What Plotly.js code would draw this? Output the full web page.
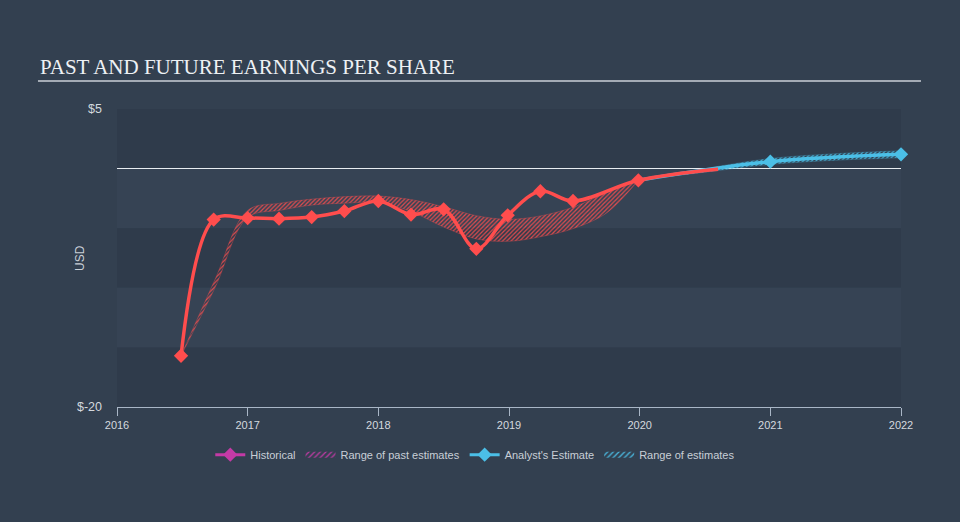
<!DOCTYPE html>
<html><head><meta charset="utf-8">
<script src="https://cdn.plot.ly/plotly-3.0.1.min.js"></script>
<style>html,body{margin:0;padding:0;background:#334050;} #chart{width:960px;height:522px;}</style>
</head><body><div id="chart"></div>
<script>
// Historical EPS (fractional year, USD)
const histT   = [2016.49, 2016.74, 2017.0, 2017.24, 2017.49, 2017.74, 2018.0, 2018.25, 2018.5, 2018.75, 2018.99, 2019.24, 2019.49, 2019.99, 2020.6];
const histEPS = [-15.7, -4.28, -4.15, -4.2, -4.07, -3.56, -2.72, -3.86, -3.42, -6.73, -3.92, -1.9, -2.72, -0.98, -0.05];
// Range of past estimates
const pastT    = [2016.49, 2016.75, 2017.0, 2017.25, 2017.5, 2017.75, 2018.0, 2018.25, 2018.5, 2018.75, 2019.0, 2019.25, 2019.5, 2019.75, 2019.99];
const pastHigh = [-15.7, -9.3, -3.5, -2.9, -2.55, -2.35, -2.3, -2.6, -3.2, -3.95, -4.25, -3.95, -3.2, -2.0, -0.98];
const pastLow  = [-15.7, -10.0, -4.1, -3.5, -3.05, -2.9, -2.85, -3.6, -4.9, -5.9, -6.1, -5.7, -5.0, -3.7, -0.98];
// Analyst estimate
const estT   = [2019.99, 2021.0, 2022.0];
const estEPS = [-0.98, 0.58, 1.2];
const estRangeT = [2019.99, 2020.5, 2021.0, 2021.5, 2022.0];
const estHigh   = [-0.98, 0.0, 0.85, 1.25, 1.5];
const estLow    = [-0.98, -0.3, 0.35, 0.7, 0.9];
// Axis ticks
const yearTicks = [2016, 2017, 2018, 2019, 2020, 2021, 2022];
const yTickVals = [5, -20];
const yTickText = ['$5', '$-20'];

const RED = '#ff4d4d', BLUE = '#4bbfe7', MAG = '#c43aa6';
const SANS = '"Liberation Sans", Arial, sans-serif';
const NARROW = '"Liberation Sans Narrow", "Arial Narrow", "Liberation Sans", Arial, sans-serif';

const histSizes = histT.map((t, i) => i === histT.length - 1 ? 0 : 11);
const estSizes = estT.map((t, i) => i === 0 ? 0 : 11);

const traces = [
  {x: estRangeT, y: estLow, mode: 'lines', line: {color: 'rgba(75,191,231,0.5)', width: 0.5, shape: 'spline'}, showlegend: false, hoverinfo: 'skip'},
  {x: estRangeT, y: estHigh, mode: 'lines', fill: 'tonexty', line: {color: 'rgba(75,191,231,0.5)', width: 0.5, shape: 'spline'},
   fillpattern: {shape: '/', fgcolor: 'rgba(75,191,231,0.9)', bgcolor: 'rgba(0,0,0,0)', size: 3, solidity: 0.4}, showlegend: false, hoverinfo: 'skip'},
  {x: estT, y: estEPS, mode: 'lines+markers', line: {color: BLUE, width: 3.5, shape: 'spline'},
   marker: {symbol: 'diamond', size: estSizes, color: BLUE, opacity: 1, line: {width: 0}}, showlegend: false, cliponaxis: false},
  {x: pastT, y: pastLow, mode: 'lines', line: {color: 'rgba(255,77,77,0.5)', width: 0.6, shape: 'spline'}, showlegend: false, hoverinfo: 'skip'},
  {x: pastT, y: pastHigh, mode: 'lines', fill: 'tonexty', line: {color: 'rgba(255,77,77,0.5)', width: 0.6, shape: 'spline'},
   fillpattern: {shape: '/', fgcolor: 'rgba(255,77,77,0.85)', bgcolor: 'rgba(0,0,0,0)', size: 3, solidity: 0.4}, showlegend: false, hoverinfo: 'skip'},
  {x: histT, y: histEPS, mode: 'lines+markers', line: {color: RED, width: 3.5, shape: 'spline'},
   marker: {symbol: 'diamond', size: histSizes, color: RED, opacity: 1, line: {width: 0}}, showlegend: false, cliponaxis: false},
  // legend entries
  {x: [null], y: [null], mode: 'lines+markers', name: 'Historical', line: {color: MAG, width: 3}, marker: {symbol: 'diamond', size: 11, color: MAG, line: {width: 0}}},
  {x: [null], y: [null], mode: 'none', fill: 'toself', name: 'Range of past estimates',
   fillpattern: {shape: '/', fgcolor: MAG, bgcolor: 'rgba(0,0,0,0)', size: 4, solidity: 0.3}},
  {x: [null], y: [null], mode: 'lines+markers', name: "Analyst's Estimate", line: {color: BLUE, width: 3}, marker: {symbol: 'diamond', size: 11, color: BLUE, line: {width: 0}}},
  {x: [null], y: [null], mode: 'none', fill: 'toself', name: 'Range of estimates',
   fillpattern: {shape: '/', fgcolor: BLUE, bgcolor: 'rgba(0,0,0,0)', size: 4, solidity: 0.3}}
];

const DARK = '#2f3b4b', LIGHT = '#364354';
const bands = [[0, 5, DARK], [-5, 0, LIGHT], [-10, -5, DARK], [-15, -10, LIGHT], [-20, -15, DARK]];
const shapes = bands.map(b => ({type: 'rect', xref: 'paper', yref: 'y', x0: 0, x1: 1, y0: b[0], y1: b[1], fillcolor: b[2], line: {width: 0}, layer: 'below'}));
shapes.push({type: 'line', xref: 'paper', yref: 'paper', x0: -0.1008, x1: 1.0255, y0: 1.094, y1: 1.094, line: {color: '#a4abb5', width: 2}});

const layout = {
  width: 960, height: 522,
  margin: {l: 117, r: 59, t: 109, b: 115},
  paper_bgcolor: '#334050', plot_bgcolor: 'rgba(0,0,0,0)',
  showlegend: true,
  legend: {orientation: 'h', traceorder: 'normal', x: 0.457, xanchor: 'center', y: -0.16, yanchor: 'middle',
           font: {family: SANS, size: 11, color: '#c9cfd7'}, bgcolor: 'rgba(0,0,0,0)', itemwidth: 30, tracegroupgap: 0},
  xaxis: {range: [2016, 2022], tickvals: yearTicks, ticktext: yearTicks.map(String), showgrid: false, zeroline: false,
          showline: true, linecolor: '#a9b6c6', linewidth: 1, ticks: 'outside', ticklen: 8, tickcolor: '#a9b6c6',
          tickfont: {family: NARROW, size: 11, color: '#d4d9df'}, fixedrange: true},
  yaxis: {range: [-20, 5], tickvals: yTickVals, ticktext: yTickText, showgrid: false, zeroline: true, zerolinecolor: '#e8ecf0', zerolinewidth: 1.5,
          showline: false, ticks: '', ticklabelstandoff: 14,
          tickfont: {family: SANS, size: 12.5, color: '#d4d9df'}},
  shapes: shapes,
  annotations: [
    {text: 'PAST AND FUTURE EARNINGS PER SHARE', xref: 'paper', yref: 'paper', x: -0.1008, y: 1.141,
     xanchor: 'left', yanchor: 'middle', showarrow: false,
     font: {family: '"Liberation Serif", "Times New Roman", serif', size: 21, color: '#eef1f4'}},
    {text: 'USD', xref: 'paper', yref: 'paper', x: -0.0472, y: 0.5, xanchor: 'center', yanchor: 'middle', textangle: -90,
     showarrow: false, font: {family: SANS, size: 12, color: '#c9cfd7'}}
  ]
};

Plotly.newPlot('chart', traces, layout, {displayModeBar: false, staticPlot: true});
</script></body></html>
